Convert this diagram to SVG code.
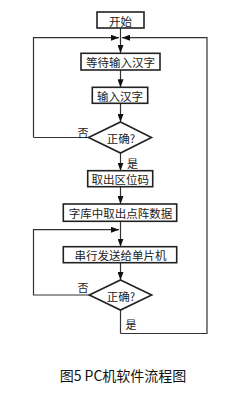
<svg xmlns="http://www.w3.org/2000/svg" width="232" height="397" viewBox="0 0 232 397">
<style>
.box{fill:#fff;stroke:#222;stroke-width:1.6}
.t{font-family:"Noto Sans CJK SC","Noto Sans",sans-serif;font-size:11.5px;fill:#222;text-anchor:middle;dominant-baseline:central}
.lbl{font-family:"Noto Sans CJK SC","Noto Sans",sans-serif;font-size:11px;fill:#222;text-anchor:middle;dominant-baseline:central}
.ln{fill:none;stroke:#333;stroke-width:1.2}
.cap{font-family:"Noto Sans CJK SC","Noto Sans",sans-serif;font-size:14px;fill:#111;text-anchor:middle;dominant-baseline:central}
</style>
<defs>
<marker id="ah" markerWidth="8" markerHeight="6" refX="8" refY="3" orient="auto" markerUnits="userSpaceOnUse">
<path d="M0,0 L8,3 L0,6 Z" fill="#111"/>
</marker>
</defs>
<rect width="232" height="397" fill="#fff"/>
<g id="connectors">
<path class="ln" d="M120.5,28 V53" marker-end="url(#ah)"/>
<path class="ln" d="M33.5,137.5 V37.7 H119" marker-end="url(#ah)"/>
<path class="ln" d="M120.5,333.5 H207 V37.7 H122" marker-end="url(#ah)"/>
<path class="ln" d="M120.5,70 V87.3" marker-end="url(#ah)"/>
<path class="ln" d="M120.5,103.3 V122" marker-end="url(#ah)"/>
<path class="ln" d="M88.5,137.5 H33.5"/>
<path class="ln" d="M120.5,153 V170.7" marker-end="url(#ah)"/>
<path class="ln" d="M120.5,186.7 V204" marker-end="url(#ah)"/>
<path class="ln" d="M120.5,221.3 V246.7" marker-end="url(#ah)"/>
<path class="ln" d="M89.3,295 H33.5 V229.7 H119" marker-end="url(#ah)"/>
<path class="ln" d="M120.5,262.7 V280" marker-end="url(#ah)"/>
<path class="ln" d="M120.5,310 V333.5"/>
</g>
<g id="start"><rect class="box" x="97" y="12" width="47" height="16"/><text class="t" x="120.5" y="20.5">开始</text></g>
<g id="wait"><rect class="box" x="81" y="53.3" width="79" height="16.7"/><text class="t" x="120.5" y="62">等待输入汉字</text></g>
<g id="input"><rect class="box" x="92.3" y="87.3" width="55.4" height="16"/><text class="t" x="120" y="95.5">输入汉字</text></g>
<g id="check1"><polygon class="box" points="120.5,122 151.5,137.5 120.5,153 88.5,137.5"/><text class="t" x="121" y="138">正确?</text><text class="lbl" x="83" y="131.5">否</text><text class="lbl" x="132.5" y="162.5">是</text></g>
<g id="code"><rect class="box" x="87.7" y="170.7" width="65" height="16"/><text class="t" x="120.2" y="179">取出区位码</text></g>
<g id="font"><rect class="box" x="63.3" y="204" width="113.4" height="17.3"/><text class="t" x="120.5" y="213">字库中取出点阵数据</text></g>
<g id="send"><rect class="box" x="63.3" y="246.7" width="113.4" height="16"/><text class="t" x="120.5" y="255">串行发送给单片机</text></g>
<g id="check2"><polygon class="box" points="120.5,280 151.7,295 120.5,310 89.3,295"/><text class="t" x="121" y="295.5">正确?</text><text class="lbl" x="83" y="286.5">否</text><text class="lbl" x="131" y="323.5">是</text></g>
<text class="cap" x="123" y="375">图5 PC机软件流程图</text>
</svg>
